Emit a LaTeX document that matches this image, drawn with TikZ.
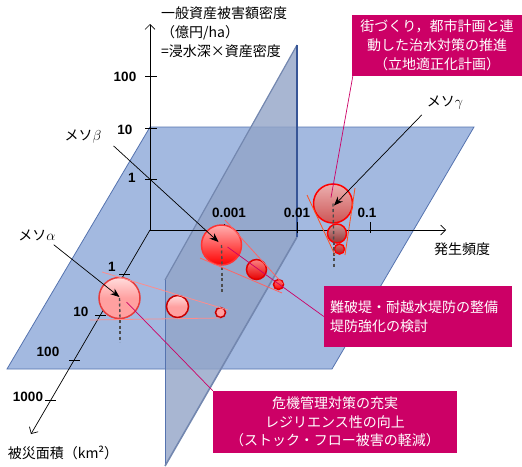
\documentclass[tikz,border=0pt]{standalone}
\usepackage{fontspec}
\setmainfont{Noto Sans CJK JP}
\newfontfamily\numfont{Liberation Sans}
\usetikzlibrary{arrows.meta,shadings}
\definecolor{planeblue}{RGB}{163,185,224}
\definecolor{planeedge}{RGB}{85,115,175}
\definecolor{vplane}{RGB}{146,164,199}
\definecolor{vedge}{RGB}{55,85,150}
\definecolor{vedgelight}{RGB}{115,135,175}
\definecolor{callout}{RGB}{204,0,102}
\definecolor{alphalite}{RGB}{255,160,160}
\definecolor{alphatop}{RGB}{255,220,220}
\definecolor{alphaline}{RGB}{255,140,140}
\definecolor{betaline}{RGB}{255,100,100}
\definecolor{gammaline}{RGB}{255,80,30}
\begin{document}
\begin{tikzpicture}[x=1pt,y=-1pt,font=\fontsize{14}{19}\selectfont]
\tikzset{
 hplane/.style={fill=planeblue,draw=planeedge,line width=0.8},
 axisline/.style={line width=0.7,draw=black},
 axisarrow/.style={-{Straight Barb[length=5pt,width=10pt]},line width=0.7},
 axtick/.style={line width=0.7},
 numlbl/.style={font=\numfont\bfseries\fontsize{13.5}{15}\selectfont,inner sep=0},
 mesolbl/.style={inner sep=0},
 pointer/.style={-{Stealth[length=9pt,width=7pt]},line width=0.7},
 calloutbox/.style={fill=callout,text=white,inner sep=0},
 calloutline/.style={draw=callout,line width=0.7},
 dropline/.style={dash pattern=on 3pt off 2.5pt,line width=1.4,draw=black!70},
 bubble/.style={circle,inner sep=0,line width=1.5},
}
\useasboundingbox (0,0) rectangle (522,466);
% horizontal plane
\path[hplane] (150,127) -- (474,127) -- (332,369) -- (7,369) -- cycle;
% vertical plane
\fill[vplane,fill opacity=0.8] (297,45) -- (297,237) -- (165,466) -- (165,280) -- cycle;
\draw[vedgelight,line width=1.2] (297,45) -- (165,280);
\draw[planeedge,line width=0.8] (165,280) -- (165,466);
\draw[vedgelight,line width=1.6] (297,237) -- (165,466);
\draw[vedge,line width=2.2] (297,45) -- (297,237);
% axes
\coordinate (O) at (150,230);
\coordinate (vtop) at (150,24);
\coordinate (hend) at (446,230);
\coordinate (dend) at (31,434);
\draw[axisarrow] (O) -- (vtop);
\draw[axisarrow] (O) -- (hend);
\draw[axisarrow] (O) -- (dend);
% vertical ticks
\draw[axtick] (145,76) -- (157,76);
\draw[axtick] (145,128) -- (157,128);
\draw[axtick] (145,179) -- (157,179);
\node[numlbl] (v100) at (125,77) {100};
\node[numlbl] (v10) at (125,130) {10};
\node[numlbl] (v1) at (132,178) {1};
% horizontal ticks
\draw[axtick] (224,224) -- (224,233);
\draw[axtick] (297,222) -- (297,233);
\draw[axtick] (370,222) -- (370,233);
\node[numlbl] (h001) at (229,213) {0.001};
\node[numlbl] (h01) at (297,213) {0.01};
\node[numlbl] (h1) at (367,213) {0.1};
% depth ticks
\draw[axtick] (119,274) -- (130,274);
\draw[axtick] (95,315) -- (106,315);
\draw[axtick] (69,360) -- (80,360);
\draw[axtick] (45,400) -- (56,400);
\node[numlbl] (d1) at (112,267) {1};
\node[numlbl] (d10) at (81,312) {10};
\node[numlbl] (d100) at (48,352) {100};
\node[numlbl] (d1000) at (28,397) {1000};
% axis names
\node[anchor=north west,inner sep=0,align=left] (vname) at (161,7) {一般資産被害額密度\\（億円/ha）\\=浸水深×資産密度};
\node[inner sep=0] (hname) at (462,249) {発生頻度};
\node[inner sep=0] (dname) at (63,453) {被災面積（km²）};
% tangent lines
\coordinate (ta1) at (102,272); \coordinate (ta2) at (228,310);
\coordinate (ta3) at (90,320); \coordinate (ta4) at (220,318);
\coordinate (tb1) at (225,220); \coordinate (tb2) at (283,284);
\coordinate (tb3) at (200,258); \coordinate (tb4) at (282,293);
\coordinate (tc1) at (307,195); \coordinate (tc2) at (335,255);
\coordinate (tc3) at (355,188); \coordinate (tc4) at (345,255);
% drop lines
\draw[dropline] (120,298) -- (120,342);
\draw[dropline] (222,245) -- (222,292);
\draw[dropline] (334,203) -- (334,267);
% bubbles alpha
\node[bubble,minimum size=41,draw={rgb,255:red,230;green,60;blue,60},top color=alphatop,bottom color=alphalite,middle color=alphalite] (a1) at (119.5,298) {};
\node[bubble,minimum size=22,draw={rgb,255:red,200;green,0;blue,0},top color=alphatop,bottom color=alphalite,middle color=alphalite] (a2) at (177.5,306.5) {};
\node[bubble,minimum size=10,draw={rgb,255:red,200;green,0;blue,0},fill=alphalite] (a3) at (220.5,312.5) {};
% bubbles beta
\node[bubble,minimum size=40,draw={rgb,255:red,255;green,50;blue,50},top color={rgb,255:red,255;green,175;blue,175},middle color=red,bottom color=red] (b1) at (221.5,245) {};
\node[bubble,minimum size=20,draw={rgb,255:red,225;green,0;blue,0},top color={rgb,255:red,250;green,130;blue,130},middle color={rgb,255:red,240;green,0;blue,0},bottom color={rgb,255:red,230;green,0;blue,0}] (b2) at (256.5,269.5) {};
\node[bubble,minimum size=10,draw={rgb,255:red,225;green,0;blue,0},top color={rgb,255:red,250;green,120;blue,120},bottom color=red] (b3) at (278.5,284.5) {};
% bubbles gamma
\node[bubble,minimum size=39,draw=red,top color={rgb,255:red,235;green,175;blue,175},middle color={rgb,255:red,215;green,100;blue,100},bottom color={rgb,255:red,205;green,85;blue,85}] (g1) at (333,203.5) {};
\node[bubble,minimum size=19,draw=red,top color={rgb,255:red,205;green,150;blue,150},middle color={rgb,255:red,165;green,70;blue,70},bottom color={rgb,255:red,150;green,55;blue,55}] (g2) at (337,233.5) {};
\node[bubble,minimum size=10,draw=red,top color={rgb,255:red,210;green,110;blue,110},bottom color={rgb,255:red,175;green,30;blue,30}] (g3) at (339.5,249) {};
\draw[alphaline,line width=0.8] (ta1) -- (ta2);
\draw[alphaline,line width=0.8] (ta3) -- (ta4);
\draw[betaline,line width=0.8] (tb1) -- (tb2);
\draw[betaline,line width=0.8] (tb3) -- (tb4);
\draw[gammaline,line width=0.8] (tc1) -- (tc2);
\draw[gammaline,line width=0.8] (tc3) -- (tc4);
\draw[dropline] (a1.center) -- (120,318);
\draw[dropline] (b1.center) -- (222,265);
\draw[dropline] (g1.center) -- (334,254);
% callout boxes
\node[calloutbox,minimum width=170,minimum height=61,align=center] (box1) at (437,45.5) {街づくり，都市計画と連\\動した治水対策の推進\\（立地適正化計画）};
\node[calloutbox,minimum height=61,text width=176,inner xsep=6,align=left] (box2) at (418,316.5) {難破堤・耐越水堤防の整備\\堤防強化の検討};
\node[calloutbox,minimum width=244,minimum height=62,align=center,font=\fontsize{14}{18.5}\selectfont] (box3) at (335,422) {危機管理対策の充実\\レジリエンス性の向上\\（ストック・フロー被害の軽減）};
\draw[calloutline] ([shift={(7,4)}]a1.center) -- (box3.north west);
\draw[calloutline] ([shift={(6,2)}]b1.center) -- (box2.west);
\draw[calloutline] ([shift={(-2,-6)}]g1.center) -- ([xshift=1]box1.south west);
% meso labels and pointers
\node[mesolbl] (la) at (37,235) {メソ$\alpha$};
\node[mesolbl] (lb) at (83,137) {メソ$\beta$};
\node[mesolbl] (lg) at (445,103) {メソ$\gamma$};
\draw[pointer] ([shift={(-2,4)}]la.south east) -- ([shift={(0,-1)}]a1.center);
\draw[pointer] ([shift={(12,2)}]lb.south east) -- ([shift={(-3,-3)}]b1.center);
\draw[pointer] ([shift={(-5,5)}]lg.south west) -- ([shift={(1,2)}]g1.center);
\end{tikzpicture}
\end{document}
